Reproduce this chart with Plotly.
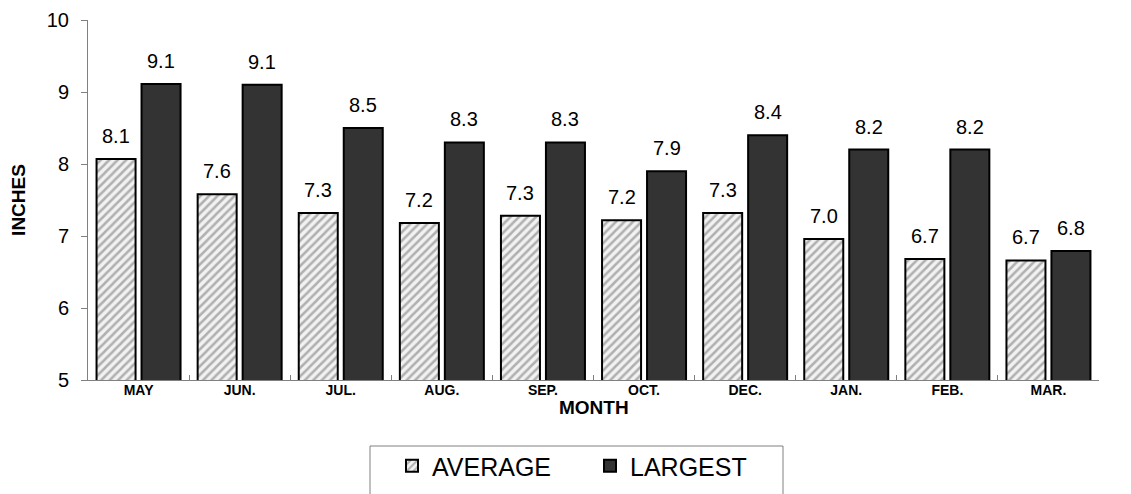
import plotly.graph_objects as go

months = ["MAY", "JUN.", "JUL.", "AUG.", "SEP.", "OCT.", "DEC.", "JAN.", "FEB.", "MAR."]
average = [8.07, 7.58, 7.32, 7.18, 7.28, 7.22, 7.32, 6.96, 6.68, 6.66]
largest = [9.11, 9.10, 8.50, 8.30, 8.30, 7.90, 8.40, 8.20, 8.20, 6.79]
y_ticks = [5, 6, 7, 8, 9, 10]

FONT = "Liberation Sans, Arial, sans-serif"
# page body has an 8px default margin; compensate so the plot sits where the reference does
W, H = 1123, 486
ML, MR, MT, MB = 80, 32, 12, 114
PW, PH = W - ML - MR, H - MT - MB


def px_x(p):
    return (p - 8 - ML) / PW


def px_y(p):
    return -((p - 8) - (MT + PH)) / PH


fig = go.Figure()
fig.add_trace(go.Bar(
    name="AVERAGE", x=months, y=average,
    marker=dict(color="white", line=dict(color="black", width=2),
                pattern=dict(shape="/", fgcolor="#6e6e6e", bgcolor="#f2f2f2",
                             size=6, solidity=0.42)),
))
fig.add_trace(go.Bar(
    name="LARGEST", x=months, y=largest,
    marker=dict(color="#333333", line=dict(color="black", width=2)),
))

bargap = 0.11
bgg = 0.133
off = (1 - bargap) / 4
annots = []
for i, (a, l) in enumerate(zip(average, largest)):
    for val, dx in ((a, -off), (l, off)):
        annots.append(dict(x=i + dx, y=val, xref="x", yref="y", text=f"{val:.1f}",
                           showarrow=False, yanchor="bottom", yshift=10,
                           font=dict(family=FONT, size=20, color="black")))
annots.append(dict(x=0.5, y=px_y(407), xref="paper", yref="paper", text="<b>MONTH</b>",
                   showarrow=False, xanchor="center", yanchor="middle",
                   font=dict(family=FONT, size=19, color="black")))

fig.update_layout(
    width=W, height=H,
    margin=dict(l=ML, r=MR, t=MT, b=MB, autoexpand=False),
    plot_bgcolor="white", paper_bgcolor="white",
    barmode="group", bargap=bargap, bargroupgap=bgg,
    font=dict(family=FONT, color="black"),
    showlegend=True,
    legend=dict(orientation="h", x=px_x(392), xanchor="left",
                y=px_y(466), yanchor="middle",
                font=dict(family=FONT, size=25, color="black"),
                bgcolor="rgba(0,0,0,0)", borderwidth=0, entrywidth=153),
    annotations=annots,
    shapes=[dict(type="rect", xref="paper", yref="paper",
                 x0=px_x(370), x1=px_x(783), y0=px_y(446), y1=px_y(520),
                 line=dict(color="#808080", width=1), fillcolor="rgba(0,0,0,0)")],
)
fig.update_xaxes(
    showline=True, linecolor="#808080", linewidth=1,
    ticks="inside", ticklen=5, tickcolor="#808080", tickson="boundaries",
    ticklabelstandoff=-3,
    tickfont=dict(family=FONT, size=14, color="black", weight="bold"),
    showgrid=False,
)
fig.update_yaxes(
    range=[5, 10], tickvals=y_ticks, showline=True, linecolor="#808080", linewidth=1,
    ticks="outside", ticklen=6, tickcolor="#808080", ticklabelstandoff=8,
    tickfont=dict(family=FONT, size=20, color="black"),
    title=dict(text="<b>INCHES</b>", font=dict(family=FONT, size=19, color="black"), standoff=18),
    showgrid=False, zeroline=False,
)

fig.write_html("out.html")
